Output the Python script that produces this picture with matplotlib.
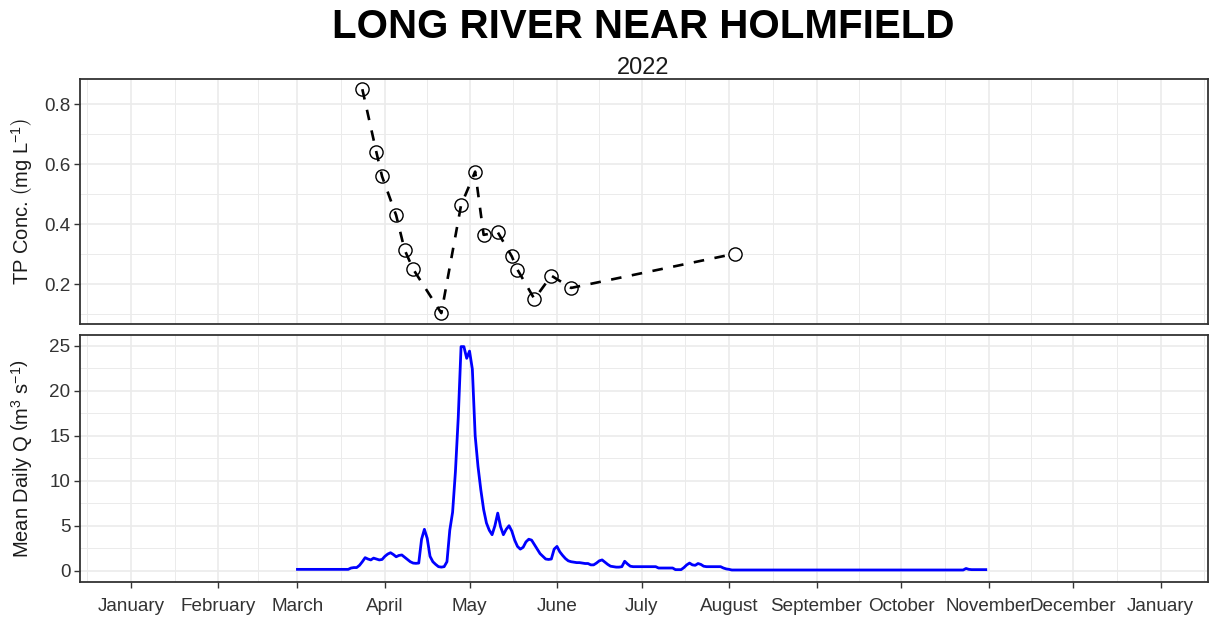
import matplotlib
matplotlib.use('Agg')
import matplotlib.pyplot as plt
import matplotlib.dates as mdates
import pandas as pd

plt.rcParams['font.family'] = ['Liberation Sans', 'DejaVu Sans']
plt.rcParams['mathtext.fontset'] = 'custom'
plt.rcParams['mathtext.rm'] = 'Liberation Sans'
plt.rcParams['mathtext.it'] = 'Liberation Sans:italic'
plt.rcParams['mathtext.bf'] = 'Liberation Sans:bold'

# ---------------- data ----------------
title = "LONG RIVER NEAR HOLMFIELD"
subtitle = "2022"
tp_label = r'TP Conc. $\left(\mathrm{mg\ L^{-1}}\right)$'
q_label = r'Mean Daily Q $\left(\mathrm{m^{3}\ s^{-1}}\right)$'

tp_dates = ["2022-03-24", "2022-03-29", "2022-03-31", "2022-04-05", "2022-04-08",
            "2022-04-11", "2022-04-21", "2022-04-28", "2022-05-03", "2022-05-06",
            "2022-05-11", "2022-05-16", "2022-05-18", "2022-05-24", "2022-05-30",
            "2022-06-06", "2022-08-03"]
tp_values = [0.850, 0.639, 0.559, 0.429, 0.314,
             0.250, 0.103, 0.463, 0.575, 0.364,
             0.373, 0.292, 0.248, 0.150, 0.228,
             0.187, 0.301]

q_start = "2022-03-01"
q_values = [
    # Mar 1 - Mar 19
    0.15, 0.15, 0.15, 0.15, 0.15, 0.15, 0.15, 0.15, 0.15, 0.15,
    0.15, 0.15, 0.15, 0.15, 0.15, 0.15, 0.15, 0.15, 0.15,
    # Mar 20 - Jun 27
    0.30, 0.35, 0.35, 0.60, 1.00, 1.45, 1.30, 1.20, 1.40, 1.30,
    1.20, 1.25, 1.60, 1.85, 2.00, 1.80, 1.55, 1.70, 1.75, 1.50,
    1.25, 1.00, 0.85, 0.82, 0.85, 3.50, 4.60, 3.60, 1.60, 1.00,
    0.70, 0.45, 0.40, 0.45, 1.00, 4.50, 6.50, 11.0, 17.0, 24.9,
    24.9, 23.6, 24.4, 22.4, 15.0, 11.6, 9.00, 6.80, 5.30, 4.50,
    4.00, 5.00, 6.40, 4.90, 4.00, 4.60, 5.00, 4.40, 3.40, 2.70,
    2.40, 2.60, 3.20, 3.50, 3.40, 2.90, 2.40, 1.90, 1.60, 1.30,
    1.25, 1.30, 2.40, 2.70, 2.10, 1.70, 1.35, 1.10, 1.00, 0.95,
    0.90, 0.90, 0.85, 0.80, 0.80, 0.65, 0.65, 0.85, 1.10, 1.20,
    0.95, 0.70, 0.50, 0.45, 0.40, 0.40, 0.45, 1.05, 0.75, 0.50,
    # Jun 28 - Jul 31
    0.45, 0.45, 0.45, 0.45, 0.45, 0.45, 0.45, 0.45, 0.45,
    0.30, 0.30, 0.30, 0.30, 0.30, 0.30,
    0.12, 0.12, 0.12,
    0.35, 0.65, 0.85, 0.65, 0.60, 0.80, 0.70, 0.50,
    0.45, 0.45, 0.45, 0.45, 0.45, 0.45,
    0.30, 0.20, 0.15,
    # Aug 2 - Oct 23
    0.08, 0.08, 0.08, 0.08, 0.08, 0.08, 0.08, 0.08, 0.08, 0.08,
    0.08, 0.08, 0.08, 0.08, 0.08, 0.08, 0.08, 0.08, 0.08, 0.08,
    0.08, 0.08, 0.08, 0.08, 0.08, 0.08, 0.08, 0.08, 0.08, 0.08,
    0.08, 0.08, 0.08, 0.08, 0.08, 0.08, 0.08, 0.08, 0.08, 0.08,
    0.08, 0.08, 0.08, 0.08, 0.08, 0.08, 0.08, 0.08, 0.08, 0.08,
    0.08, 0.08, 0.08, 0.08, 0.08, 0.08, 0.08, 0.08, 0.08, 0.08,
    0.08, 0.08, 0.08, 0.08, 0.08, 0.08, 0.08, 0.08, 0.08, 0.08,
    0.08, 0.08, 0.08, 0.08, 0.08, 0.08, 0.08, 0.08, 0.08, 0.08,
    0.08, 0.08, 0.08,
    # Oct 24 - Oct 31
    0.25, 0.15, 0.12, 0.12, 0.12, 0.12, 0.12, 0.12,
]

month_ticks = ["2022-01-01", "2022-02-01", "2022-03-01", "2022-04-01", "2022-05-01",
               "2022-06-01", "2022-07-01", "2022-08-01", "2022-09-01", "2022-10-01",
               "2022-11-01", "2022-12-01", "2023-01-01"]
month_labels = ["January", "February", "March", "April", "May", "June", "July",
                "August", "September", "October", "November", "December", "January"]
tp_yticks = [0.2, 0.4, 0.6, 0.8]
tp_yminor = [0.1, 0.3, 0.5, 0.7]
q_yticks = [0, 5, 10, 15, 20, 25]
q_yminor = [2.5, 7.5, 12.5, 17.5, 22.5]

# ---------------- figure ----------------
W, H = 1209, 617
fig = plt.figure(figsize=(W / 100, H / 100), dpi=100)
fig.patch.set_facecolor('white')

def frac_rect(x0, y0, x1, y1):
    return [x0 / W, 1 - y1 / H, (x1 - x0) / W, (y1 - y0) / H]

ax1 = fig.add_axes(frac_rect(80, 79, 1207.5, 324.3))
ax2 = fig.add_axes(frac_rect(80, 335, 1207.5, 581.7))

tick_nums = mdates.date2num(pd.to_datetime(month_ticks))
ext = list(tick_nums)
ext = [ext[0] - 31] + ext + [ext[-1] + 31]
minor_nums = [(a + b) / 2 for a, b in zip(ext[:-1], ext[1:])]
x0 = tick_nums[0]
xlim = (x0 - 18.08, x0 + 381.6)

grid_c = '#EBEBEB'
border_c = '#333333'
for ax in (ax1, ax2):
    ax.set_facecolor('white')
    ax.set_xlim(*xlim)
    ax.set_xticks(tick_nums)
    ax.set_xticks(minor_nums, minor=True)
    ax.grid(True, which='major', color=grid_c, lw=1.2, zorder=0)
    ax.grid(True, which='minor', color=grid_c, lw=0.7, zorder=0)
    ax.set_axisbelow(True)
    for s in ax.spines.values():
        s.set_color(border_c)
        s.set_linewidth(1.3)
    ax.tick_params(axis='both', which='major', direction='out', length=4,
                   width=1.0, color=border_c, labelsize=13.6, labelcolor='#333333', pad=3)
    ax.tick_params(axis='both', which='minor', length=0)

# top panel
d_tp = pd.to_datetime(tp_dates)
ax1.plot(d_tp, tp_values, linestyle='none', marker='o', ms=9.5, mfc='white',
         mec='black', mew=1.0, zorder=3)
ax1.plot(d_tp, tp_values, color='black', lw=1.9, dashes=(4, 4), zorder=4)
ax1.set_xlim(*xlim)
ax1.set_ylim(0.0657, 0.884)
ax1.set_yticks(tp_yticks)
ax1.set_yticks(tp_yminor, minor=True)
ax1.set_yticklabels([f"{v:.1f}" for v in tp_yticks])
ax1.tick_params(axis='x', which='both', length=0, labelbottom=False)
ax1.set_ylabel(tp_label, fontsize=14.5, color='#1a1a1a')
ax1.yaxis.set_label_coords(-0.0395, 0.5)

# bottom panel
d_q = pd.date_range(q_start, periods=len(q_values), freq='D')
ax2.plot(d_q, q_values, color='#0000FF', lw=2.0, zorder=3)
ax2.set_xlim(*xlim)
ax2.set_ylim(-1.22, 26.19)
ax2.set_yticks(q_yticks)
ax2.set_yticks(q_yminor, minor=True)
ax2.set_yticklabels([str(v) for v in q_yticks])
ax2.set_xticklabels(month_labels)
ax2.tick_params(axis='x', which='major', pad=8)
ax2.set_ylabel(q_label, fontsize=14.5, color='#1a1a1a')
ax2.yaxis.set_label_coords(-0.0395, 0.5)

fig.text(643 / W, 1 - 27 / H, title, ha='center', va='center',
         fontsize=29, fontweight='bold', color='black')
fig.text(643 / W, 1 - 68 / H, subtitle, ha='center', va='center',
         fontsize=17, color='#1a1a1a')

fig.savefig('out.png', dpi=100, facecolor='white')
